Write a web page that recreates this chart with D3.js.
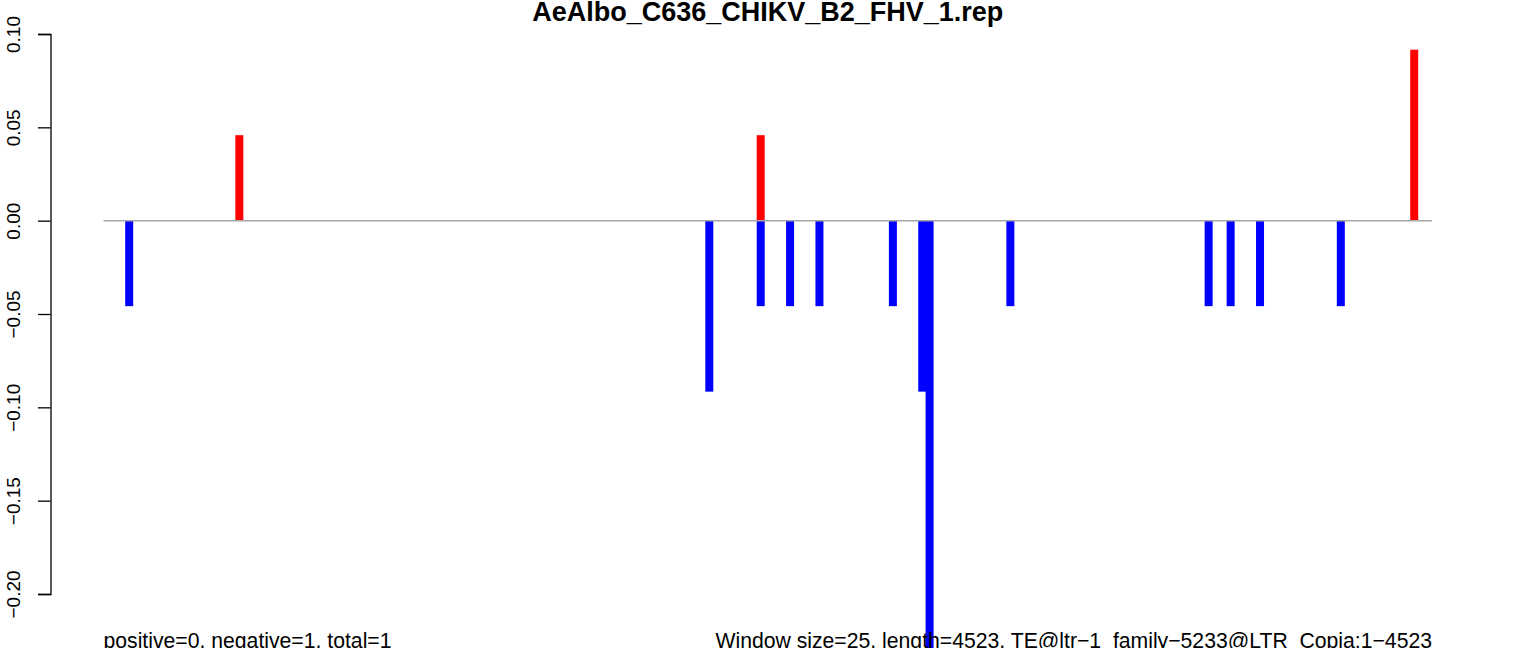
<!DOCTYPE html>
<html>
<head>
<meta charset="utf-8">
<script src="https://cdn.jsdelivr.net/npm/d3@7"></script>
<style>
  html, body { margin: 0; padding: 0; background: #fff; }
  svg { display: block; font-family: "Liberation Sans", Arial, Helvetica, sans-serif; }
</style>
</head>
<body>
<svg id="chart" width="1536" height="648"></svg>
<script>
// ---- data ----
const title = "AeAlbo_C636_CHIKV_B2_FHV_1.rep";
const windowSize = 25;
const seqLength = 4523;
// window indexes (1-based) and values of the positive (red) strand
const posWindows = [19, 90, 179];
const posValues  = [0.0458, 0.0458, 0.0916];
// window indexes (1-based) and values of the negative (blue) strand
const negWindows = [4, 83, 90, 94, 98, 108, 112, 113, 124, 151, 154, 158, 169];
const negValues  = [-0.0458, -0.0916, -0.0458, -0.0458, -0.0458, -0.0458, -0.0916, -0.2748, -0.0458, -0.0458, -0.0458, -0.0458, -0.0458];
const yTicks = [0.10, 0.05, 0.00, -0.05, -0.10, -0.15, -0.20];
const leftNote = "positive=0, negative=1, total=1";
const rightNote = "Window size=25, length=4523, TE@ltr\u22121_family\u22125233@LTR_Copia:1\u22124523";

// ---- layout ----
const svg = d3.select("#chart");
const x = d3.scaleLinear().domain([0, seqLength]).range([103.5, 1432]);
const y = d3.scaleLinear().domain([0.10, -0.20]).range([34, 594]);
const barW = 8;
const axisX = 50.5;

const pos = posWindows.map((w, i) => ({ w, v: posValues[i] }));
const neg = negWindows.map((w, i) => ({ w, v: negValues[i] }));
const center = w => x(w * windowSize - windowSize / 2);

// bars
svg.append("g").selectAll("rect").data(pos).join("rect")
  .attr("x", d => center(d.w) - barW / 2)
  .attr("width", barW)
  .attr("y", d => y(d.v))
  .attr("height", d => y(0) - y(d.v))
  .attr("fill", "#ff0000");

svg.append("g").selectAll("rect").data(neg).join("rect")
  .attr("x", d => center(d.w) - barW / 2)
  .attr("width", barW)
  .attr("y", y(0))
  .attr("height", d => y(d.v) - y(0))
  .attr("fill", "#0000ff");

// zero line
svg.append("line")
  .attr("x1", x(0)).attr("x2", x(seqLength))
  .attr("y1", y(0)).attr("y2", y(0))
  .attr("stroke", "#a6a6a6").attr("stroke-width", 1.5);

// y axis
const fmt = d3.format(".2f");
const yAxis = d3.axisLeft(y).tickValues(yTicks).tickSize(12.5).tickFormat(d => fmt(d));
const gA = svg.append("g").attr("transform", `translate(${axisX},0)`).call(yAxis);
gA.select(".domain").attr("stroke", "#000").attr("stroke-width", 1.3);
gA.selectAll(".tick line").attr("stroke", "#000").attr("stroke-width", 1.3);
gA.selectAll(".tick text")
  .attr("transform", "rotate(-90)")
  .attr("x", 0).attr("y", -31).attr("dy", 0)
  .attr("text-anchor", "middle")
  .attr("fill", "#000")
  .style("font-size", "19px")
  .style("font-family", "'Liberation Sans', Arial, sans-serif");

// title
svg.append("text")
  .attr("x", (50.5 + 1485) / 2).attr("y", 21)
  .attr("text-anchor", "middle")
  .attr("font-weight", "bold")
  .attr("font-size", 27)
  .text(title);

// bottom notes
svg.append("text")
  .attr("x", x(0)).attr("y", 648)
  .attr("text-anchor", "start")
  .attr("font-size", 21.2)
  .text(leftNote);
svg.append("text")
  .attr("x", x(seqLength)).attr("y", 648)
  .attr("text-anchor", "end")
  .attr("font-size", 21.2)
  .text(rightNote);
</script>
</body>
</html>
